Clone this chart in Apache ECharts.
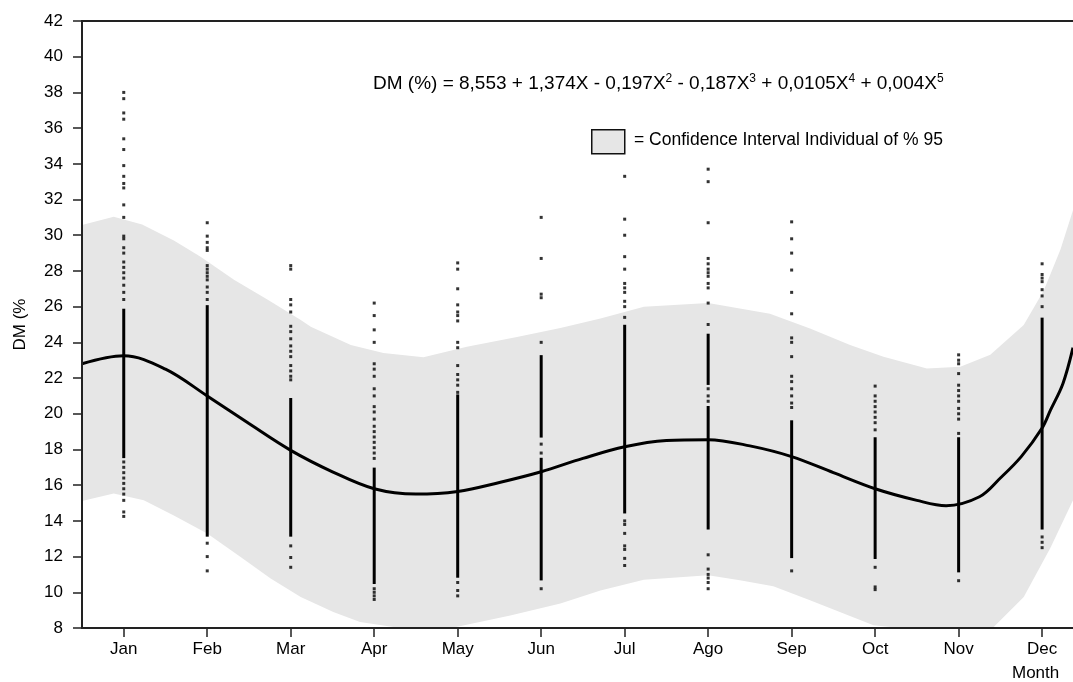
<!DOCTYPE html>
<html>
<head>
<meta charset="utf-8">
<script src="https://cdn.jsdelivr.net/npm/echarts@6.0.0/dist/echarts.min.js"></script>
<style>
  html, body { margin: 0; padding: 0; background: #fff; }
  #chart { width: 1073px; height: 682px; }
</style>
</head>
<body>
<div id="chart"></div>
<script>
// month labels on the x axis (Jan = 1 ... Dec = 12)
const months = ['Jan', 'Feb', 'Mar', 'Apr', 'May', 'Jun', 'Jul', 'Ago', 'Sep', 'Oct', 'Nov', 'Dec'];
const monthPos = [1, 2, 3, 4, 5, 6, 7, 8, 9, 10, 11, 12];

// fitted curve
const fitX = [0.5, 1, 1.5, 2, 2.5, 3, 3.5, 4, 4.5, 5, 5.5, 6, 6.5, 7, 7.5, 8, 8.5, 9, 9.5, 10, 10.5, 10.85, 11.25, 11.5, 11.75, 12, 12.1, 12.25, 12.37];
const fitY = [22.8, 23.25, 22.5, 21.0, 19.45, 17.95, 16.75, 15.8, 15.5, 15.65, 16.15, 16.75, 17.5, 18.15, 18.5, 18.55, 18.2, 17.6, 16.7, 15.8, 15.15, 14.85, 15.35, 16.4, 17.6, 19.2, 20.2, 21.7, 23.7];

// 95% individual confidence band (upper and lower edges)
const bandUpperX = [0.5, 0.88, 1.22, 1.6, 1.92, 2.32, 2.72, 3.12, 3.24, 3.72, 4.11, 4.59, 5.11, 5.71, 6.23, 6.71, 7.23, 8.0, 8.74, 9.22, 9.7, 10.1, 10.62, 11.02, 11.38, 11.78, 12.02, 12.22, 12.37];
const bandUpperY = [30.57, 31.04, 30.6, 29.7, 28.8, 27.5, 26.4, 25.25, 24.87, 23.85, 23.4, 23.16, 23.75, 24.3, 24.8, 25.34, 26.0, 26.2, 25.6, 24.78, 23.85, 23.2, 22.54, 22.63, 23.3, 24.97, 26.9, 29.2, 31.4];
const bandLowerX = [0.5, 0.88, 1.24, 1.6, 2.0, 2.4, 2.76, 3.12, 3.51, 3.83, 4.31, 4.67, 4.98, 5.63, 6.23, 6.71, 7.23, 8.0, 8.38, 8.78, 9.22, 9.98, 10.3, 11.02, 11.42, 11.78, 12.1, 12.37];
const bandLowerY = [15.12, 15.53, 15.16, 14.3, 13.3, 11.98, 10.77, 9.74, 8.9, 8.34, 7.8, 7.8, 8.05, 8.7, 9.37, 10.1, 10.7, 10.95, 10.67, 10.34, 9.55, 8.15, 7.6, 7.5, 8.06, 9.74, 12.5, 15.16];

// single observations that stand apart, per month
const sparseByMonth = [
    [38.0, 37.65, 36.85, 36.5, 35.4, 34.8, 33.9, 33.3, 32.9, 32.65, 31.7, 31.0, 29.95, 29.8, 29.3, 29.0, 28.5, 28.2, 27.9, 27.6, 27.2, 26.8, 26.4, 17.3, 17.0, 16.7, 16.4, 16.1, 15.8, 15.5, 15.15, 14.5, 14.25],
    [30.7, 29.95, 29.6, 29.3, 29.15, 28.3, 28.1, 27.9, 27.7, 27.5, 27.1, 26.8, 26.4, 12.75, 12.0, 11.2],
    [28.3, 28.1, 26.4, 26.1, 25.7, 24.9, 24.6, 24.2, 23.8, 23.5, 23.2, 22.7, 22.4, 22.1, 21.9, 12.6, 11.95, 11.4],
    [26.2, 25.5, 24.7, 24.0, 22.8, 22.5, 22.1, 21.4, 21.0, 20.4, 20.1, 19.7, 19.3, 19.0, 18.7, 18.4, 18.1, 17.8, 17.5, 10.2, 10.0, 9.8, 9.6],
    [28.45, 28.1, 27.0, 26.1, 25.7, 25.5, 25.2, 24.0, 23.7, 22.7, 22.2, 21.9, 21.6, 21.2, 10.55, 10.1, 9.8],
    [31.0, 28.7, 26.7, 26.5, 24.0, 18.3, 17.8, 10.2],
    [33.3, 30.9, 30.0, 28.8, 28.1, 27.3, 27.05, 26.8, 26.3, 26.0, 25.4, 14.0, 13.8, 13.3, 12.6, 12.4, 11.9, 11.5],
    [33.7, 33.0, 30.7, 28.7, 28.4, 28.1, 27.9, 27.7, 27.3, 27.05, 26.2, 25.0, 21.4, 21.0, 20.7, 12.1, 11.3, 11.0, 10.8, 10.55, 10.2],
    [30.75, 29.8, 29.0, 28.05, 26.8, 25.6, 24.25, 24.0, 23.2, 22.1, 21.8, 21.4, 21.0, 20.6, 20.35, 11.2],
    [21.55, 21.0, 20.7, 20.4, 20.1, 19.8, 19.5, 19.1, 11.4, 10.3, 10.15],
    [23.3, 23.0, 22.8, 22.25, 21.6, 21.3, 21.0, 20.7, 20.3, 20.0, 19.7, 18.9, 10.65],
    [28.4, 27.8, 27.6, 27.4, 26.95, 26.6, 26.0, 13.1, 12.8, 12.5]
];
// stretches where the observations merge into a solid column [low, high]
const denseRunsByMonth = [
    [[17.6, 25.8]],
    [[13.2, 26.0]],
    [[13.2, 20.8]],
    [[10.55, 16.9]],
    [[10.9, 21.0]],
    [[10.75, 17.45], [18.75, 23.2]],
    [[14.5, 24.9]],
    [[13.6, 20.35], [21.7, 24.4]],
    [[12.0, 19.55]],
    [[11.95, 18.6]],
    [[11.2, 18.6]],
    [[13.6, 25.3]]
];

const fontMain = 'Liberation Sans, Arial, sans-serif';

let fitData = fitX.map(function (x, i) { return [x, fitY[i]]; });
let scatterData = [];
let runData = [];
for (let m = 0; m < monthPos.length; m++) {
    sparseByMonth[m].forEach(function (v) { scatterData.push([monthPos[m], v]); });
    denseRunsByMonth[m].forEach(function (r) { runData.push([monthPos[m], r[0], r[1]]); });
}

// band drawn as one polygon through the axes
function renderBand(params, api) {
    const cs = params.coordSys;
    const bottom = cs.y + cs.height;
    let pts = [];
    for (let i = 0; i < bandUpperX.length; i++) {
        const p = api.coord([bandUpperX[i], bandUpperY[i]]);
        pts.push([p[0], Math.min(p[1], bottom)]);
    }
    for (let i = bandLowerX.length - 1; i >= 0; i--) {
        const p = api.coord([bandLowerX[i], bandLowerY[i]]);
        pts.push([p[0], Math.min(p[1], bottom)]);
    }
    return { type: 'polygon', shape: { points: pts }, style: { fill: '#e6e6e6' } };
}

// solid columns of overlapping points
function renderRun(params, api) {
    const top = api.coord([api.value(0), api.value(2)]);
    const low = api.coord([api.value(0), api.value(1)]);
    return {
        type: 'rect',
        shape: { x: top[0] - 1.5, y: top[1] - 1.5, width: 3, height: low[1] - top[1] + 3 },
        style: { fill: '#000' }
    };
}

var myChart = echarts.init(document.getElementById('chart'), null, { renderer: 'canvas' });
option = {
    animation: false,
    backgroundColor: '#fff',
    grid: { left: 82, top: 21, right: 0, bottom: 54 },
    xAxis: [
        {
            type: 'value',
            min: 0.5,
            max: 12.37,
            z: 10,
            splitLine: { show: false },
            axisLine: { lineStyle: { color: '#222', width: 2 } },
            axisTick: { customValues: monthPos, length: 9, lineStyle: { color: '#222', width: 1.5 } },
            axisLabel: {
                customValues: monthPos,
                margin: 13,
                color: '#000',
                fontSize: 17,
                fontFamily: fontMain,
                formatter: function (v) { return months[Math.round(v) - 1]; }
            }
        },
        {
            // top frame line
            type: 'value',
            position: 'top',
            min: 0.5,
            max: 12.37,
            z: 10,
            splitLine: { show: false },
            axisLine: { lineStyle: { color: '#222', width: 2 } },
            axisTick: { show: false },
            axisLabel: { show: false }
        }
    ],
    yAxis: {
        type: 'value',
        min: 8,
        max: 42,
        interval: 2,
        z: 10,
        name: 'DM (%',
        nameLocation: 'middle',
        nameGap: 53,
        nameTextStyle: { color: '#000', fontSize: 17, fontFamily: fontMain },
        splitLine: { show: false },
        axisLine: { show: true, lineStyle: { color: '#222', width: 2 } },
        axisTick: { show: true, length: 9, lineStyle: { color: '#222', width: 1.5 } },
        axisLabel: { margin: 19, color: '#000', fontSize: 17, fontFamily: fontMain }
    },
    series: [
        {
            type: 'custom',
            renderItem: renderBand,
            clip: true,
            silent: true,
            z: 1,
            data: [[bandUpperX[0], bandUpperY[0]]]
        },
        {
            type: 'custom',
            renderItem: renderRun,
            clip: true,
            silent: true,
            z: 3,
            encode: { x: 0, y: [1, 2] },
            data: runData
        },
        {
            type: 'scatter',
            symbol: 'rect',
            symbolSize: 3,
            itemStyle: { color: '#000' },
            silent: true,
            z: 3,
            data: scatterData
        },
        {
            type: 'line',
            data: fitData,
            smooth: 0.35,
            showSymbol: false,
            lineStyle: { color: '#000', width: 3 },
            silent: true,
            z: 4
        }
    ],
    graphic: [
        {
            type: 'text',
            left: 373,
            top: 73,
            style: {
                text: 'DM (%) = 8,553 + 1,374X - 0,197X{s|2} - 0,187X{s|3} + 0,0105X{s|4} + 0,004X{s|5}',
                fill: '#000',
                fontSize: 19,
                fontFamily: fontMain,
                rich: {
                    s: { fontSize: 12, verticalAlign: 'top', padding: [0, 0, 10, 0], fontFamily: fontMain, fill: '#000' }
                }
            }
        },
        {
            type: 'rect',
            left: 591,
            top: 129,
            shape: { width: 33, height: 24 },
            style: { fill: '#e6e6e6', stroke: '#111', lineWidth: 1.5 }
        },
        {
            type: 'text',
            left: 634,
            top: 131,
            style: { text: '= Confidence Interval Individual of % 95', fill: '#000', fontSize: 17.5, fontFamily: fontMain }
        },
        {
            type: 'text',
            left: 1012,
            top: 665,
            style: { text: 'Month', fill: '#000', fontSize: 17, fontFamily: fontMain }
        }
    ]
};
myChart.setOption(option);
</script>
</body>
</html>
